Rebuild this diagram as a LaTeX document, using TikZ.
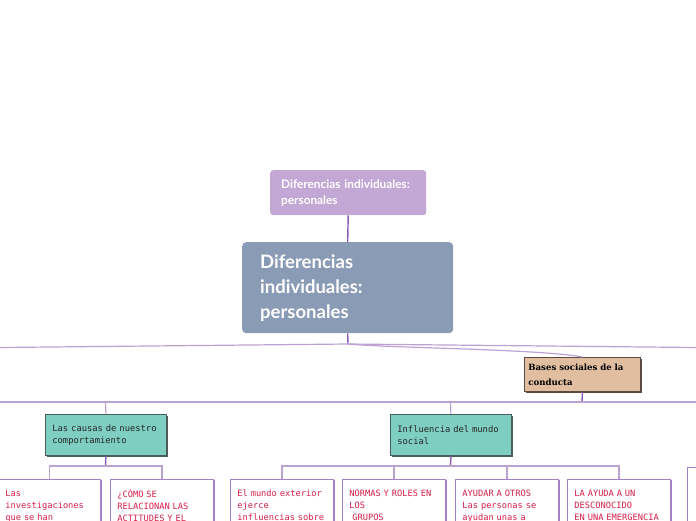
\documentclass[tikz,border=0pt]{standalone}
\usepackage{fontspec}
\newfontfamily\lato{Lato}
\newfontfamily\monof{DejaVu Sans Mono}
\newfontfamily\serifb{DejaVu Serif}
\usetikzlibrary{shadows}
\definecolor{toppurple}{HTML}{C3A7D4}
\definecolor{mainblue}{HTML}{8A9CB5}
\definecolor{darkline}{HTML}{8C5DB0}
\definecolor{lightline}{HTML}{BBA2D2}
\definecolor{tealfill}{HTML}{7ECEC2}
\definecolor{tealedge}{HTML}{4B5C5A}
\definecolor{tanfill}{HTML}{E2BEA0}
\definecolor{tanedge}{HTML}{5C4B40}
\definecolor{boxedge}{HTML}{A282C2}
\definecolor{redtext}{HTML}{D61F4A}
\tikzset{
  topbox/.style={rounded corners=3pt, fill=toppurple, draw=none, anchor=north west,
    text=white, font=\lato\bfseries\fontsize{11.8}{16}\selectfont, align=left,
    text width=134pt, inner xsep=11pt, inner ysep=0pt, minimum height=45pt},
  mainbox/.style={rounded corners=4pt, fill=mainblue, draw=none, anchor=north west,
    text=white, font=\lato\bfseries\fontsize{18.5}{25}\selectfont, align=left,
    text width=175pt, inner xsep=18pt, inner ysep=0pt, minimum height=91pt},
  tealbox/.style={fill=tealfill, draw=tealedge, line width=0.8pt, anchor=north west,
    drop shadow={shadow xshift=1.6pt, shadow yshift=-1.6pt, fill=tealedge, opacity=1},
    text=black!85, font=\monof\fontsize{8.8}{12}\selectfont, align=left,
    text width=107pt, inner xsep=7pt, inner ysep=0pt, minimum height=41pt},
  tanbox/.style={fill=tanfill, draw=tanedge, line width=0.8pt, anchor=north west,
    drop shadow={shadow xshift=1.6pt, shadow yshift=-1.6pt, fill=tanedge, opacity=1},
    text=black, font=\serifb\bfseries\fontsize{8.6}{15}\selectfont, align=left,
    text width=108pt, inner xsep=4pt, inner ysep=0pt, minimum height=34pt},
  whitebox/.style={fill=white, draw=boxedge, line width=0.8pt, anchor=north west,
    drop shadow={shadow xshift=2pt, shadow yshift=-1pt, fill=boxedge, opacity=1},
    text=redtext, font=\monof\fontsize{8.7}{12}\selectfont, align=left,
    text width=89pt, inner xsep=7pt, inner ysep=10.5pt, text depth=40pt},
  trunk/.style={draw=darkline, line width=1.4pt},
  branch/.style={draw=lightline, line width=1.2pt},
}
\begin{document}
\begin{tikzpicture}[x=1pt,y=-1pt]
\useasboundingbox (0,0) rectangle (696,520);
\clip (0,0) rectangle (696,520);

\node[topbox] (top) at (270,170) {Diferencias individuales:\\personales};
\node[mainbox] (main) at (242,242) {Diferencias\\individuales:\\personales};
\node[tanbox] (bases) at (524,357) {Bases sociales de la\\conducta};
\node[tealbox] (causas) at (45,414) {Las causas de nuestro\\comportamiento};
\node[tealbox] (influ) at (390,414) {Influencia del mundo\\social};

\node[whitebox, text width=88pt] (inv) at (-2,479) {Las\\investigaciones\\que se han};
\node[whitebox] (como) at (110,479) {¿CÓMO SE\\RELACIONAN LAS\\ACTITUDES Y EL};
\node[whitebox] (mundo) at (230,479) {El mundo exterior\\ejerce\\influencias sobre};
\node[whitebox] (normas) at (342,479) {NORMAS Y ROLES EN\\LOS\\\ GRUPOS};
\node[whitebox] (ayudar) at (455,479) {AYUDAR A OTROS\\Las personas se\\ayudan unas a};
\node[whitebox] (ayuda) at (567,479) {LA AYUDA A UN\\DESCONOCIDO\\EN UNA EMERGENCIA};
\node[whitebox] (right) at (687,467) {};

% coordinates
\coordinate (j1) at (348,344);
\coordinate (l1) at (0,347.5);
\coordinate (r1) at (696,347.5);
\coordinate (j2) at (582,402);
\coordinate (l2) at (0,402);
\coordinate (r2) at (696,402);
\coordinate (c1) at (105.5,402);
\coordinate (c2) at (450.5,402);
\coordinate (j3) at (105.5,466);
\coordinate (j4) at (450.5,466);

% connectors
\draw[trunk] (top.south) -- (main.north);
\draw[trunk] (main.south) -- (j1);
\draw[branch] (j1) -- (l1);
\draw[branch] (j1) -- (r1);
\draw[branch] (j1) .. controls (390,348) and (540,349) .. (bases.north);
\draw[trunk] (bases.south) -- (j2);
\draw[branch] (l2) -- (r2);
\draw[branch] (c1) -- (causas.north);
\draw[branch] (c2) -- (influ.north);
\draw[trunk] (causas.south) -- (j3);
\draw[trunk] (influ.south) -- (j4);
\draw[branch] (inv.north) |- (j3) -| (como.north);
\draw[branch] (mundo.north) |- (j4) -| (ayuda.north);
\draw[branch] (normas.north) -- (normas.north |- j4);
\draw[branch] (ayudar.north) -- (ayudar.north |- j4);
\end{tikzpicture}
\end{document}
